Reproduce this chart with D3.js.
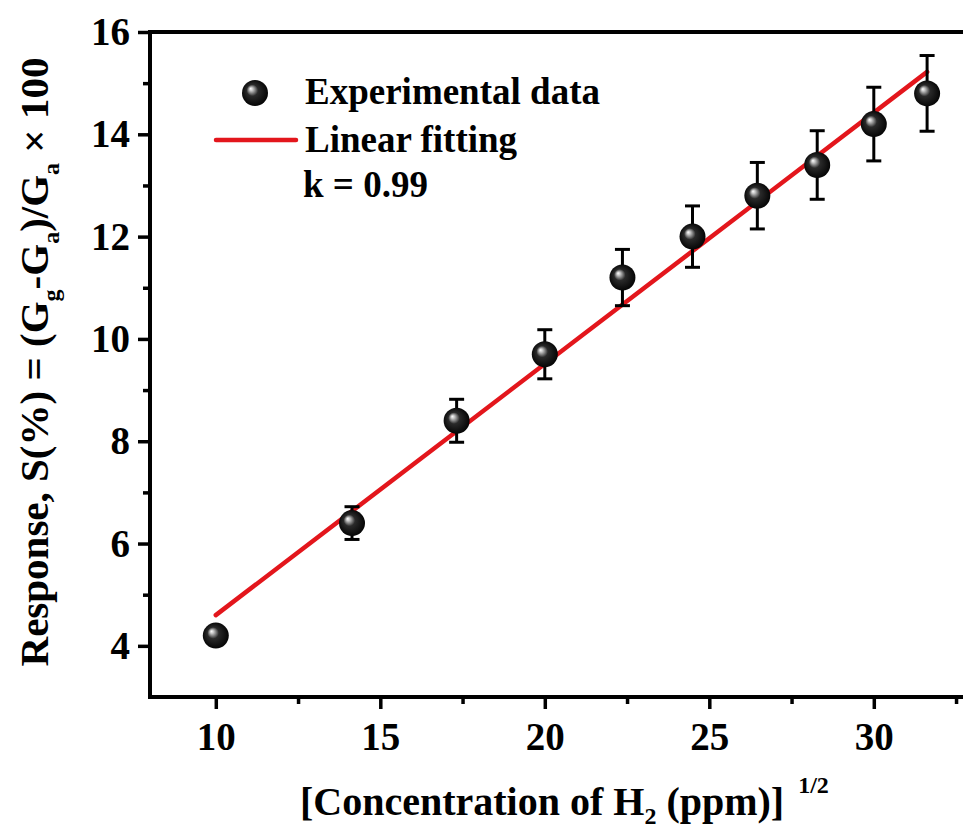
<!DOCTYPE html>
<html>
<head>
<meta charset="utf-8">
<script src="https://cdn.jsdelivr.net/npm/d3@7"></script>
<style>
    body { margin: 0; background: #fff; }
    svg text { font-family: "Liberation Serif", "Times New Roman", serif !important; font-weight: bold; }
</style>
</head>
<body>
<div id="chart"></div>
<script>
// sqrt of H2 concentration (ppm) and response values
const concSqrt = [10, 14.14, 17.32, 20, 22.36, 24.49, 26.46, 28.28, 30, 31.62];
const response = [4.2, 6.4, 8.4, 9.7, 11.2, 12.0, 12.8, 13.4, 14.2, 14.8];
const errors = [0.05, 0.32, 0.42, 0.48, 0.55, 0.6, 0.65, 0.67, 0.72, 0.74];

// linear fit end points
const fitX = [10, 31.62];
const fitY = [4.6, 15.22];

const xTicks = [10, 15, 20, 25, 30];
const xMinor = [12.5, 17.5, 22.5, 27.5, 32.5];
const yTicks = [4, 6, 8, 10, 12, 14, 16];
const yMinor = [5, 7, 9, 11, 13, 15];

const W = 963, H = 828;
const margin = { top: 32, left: 150, bottom: 131 };
const serif = "'Liberation Serif', 'Times New Roman', serif";

const svg = d3.select("#chart").append("svg")
    .attr("width", W)
    .attr("height", H)
    .style("display", "block");

const x = d3.scaleLinear().domain([8, 33]).range([margin.left, 972.5]);
const y = d3.scaleLinear().domain([3, 16]).range([H - margin.bottom, margin.top]);

// sphere look for the markers
const grad = svg.append("defs").append("radialGradient")
    .attr("id", "ball")
    .attr("cx", "0.5").attr("cy", "0.5").attr("r", "0.55")
    .attr("fx", "0.33").attr("fy", "0.33");
grad.append("stop").attr("offset", "0").attr("stop-color", "#ffffff");
grad.append("stop").attr("offset", "0.12").attr("stop-color", "#c8c8c8");
grad.append("stop").attr("offset", "0.4").attr("stop-color", "#2a2a2a");
grad.append("stop").attr("offset", "1").attr("stop-color", "#000000");

// axes
svg.append("g")
    .attr("transform", `translate(0,${y(3)})`)
    .call(d3.axisBottom(x).tickValues(xTicks).tickSize(12).tickPadding(13).tickFormat(d3.format("d")));
svg.append("g")
    .attr("transform", `translate(0,${y(3)})`)
    .call(d3.axisBottom(x).tickValues(xMinor).tickSize(7).tickFormat(""));

svg.append("g")
    .attr("transform", `translate(${x(8)},0)`)
    .call(d3.axisLeft(y).tickValues(yTicks).tickSize(12).tickPadding(8).tickFormat(d3.format("d")));
svg.append("g")
    .attr("transform", `translate(${x(8)},0)`)
    .call(d3.axisLeft(y).tickValues(yMinor).tickSize(7).tickFormat(""));

svg.selectAll("g").attr("font-family", serif).attr("font-weight", "bold");
svg.selectAll(".domain").remove();
svg.selectAll(".tick line").attr("stroke", "#000").attr("stroke-width", 3.5);
svg.selectAll(".tick text")
    .attr("fill", "#000")
    .attr("font-size", 39);

// frame: left, bottom, top
svg.append("path")
    .attr("d", `M${W},${y(16)} H${x(8)} V${y(3)} H${W}`)
    .attr("fill", "none")
    .attr("stroke", "#000")
    .attr("stroke-width", 4);

// fit line
svg.append("line")
    .attr("x1", x(fitX[0])).attr("y1", y(fitY[0]))
    .attr("x2", x(fitX[1])).attr("y2", y(fitY[1]))
    .attr("stroke", "#e3161c")
    .attr("stroke-width", 4.5)
    .attr("stroke-linecap", "round");

const pts = concSqrt.map((c, i) => ({ x: c, y: response[i], e: errors[i] }));

// error bars
const eb = svg.append("g").attr("stroke", "#000").attr("stroke-width", 3);
pts.forEach(d => {
    eb.append("line").attr("x1", x(d.x)).attr("x2", x(d.x))
        .attr("y1", y(d.y - d.e)).attr("y2", y(d.y + d.e));
    [d.y - d.e, d.y + d.e].forEach(v => {
        eb.append("line").attr("x1", x(d.x) - 7.5).attr("x2", x(d.x) + 7.5)
            .attr("y1", y(v)).attr("y2", y(v));
    });
});

svg.append("g").selectAll("circle")
    .data(pts)
    .enter()
    .append("circle")
    .attr("cx", d => x(d.x))
    .attr("cy", d => y(d.y))
    .attr("r", 13)
    .attr("fill", "url(#ball)");

// legend
svg.append("circle").attr("cx", 255).attr("cy", 93).attr("r", 13).attr("fill", "url(#ball)");
svg.append("text").attr("x", 305).attr("y", 104).attr("font-size", 37).text("Experimental data");
svg.append("line").attr("x1", 216).attr("x2", 296).attr("y1", 140).attr("y2", 140)
    .attr("stroke", "#e3161c").attr("stroke-width", 4.5).attr("stroke-linecap", "round");
svg.append("text").attr("x", 305).attr("y", 152).attr("font-size", 37).text("Linear fitting");
svg.append("text").attr("x", 303).attr("y", 197).attr("font-size", 37).text("k = 0.99");

// x axis title
const xt = svg.append("text")
    .attr("x", 300).attr("y", 815)
    .attr("font-size", 40);
xt.append("tspan").text("[Concentration of H");
xt.append("tspan").attr("dy", 9).attr("font-size", 24).text("2");
xt.append("tspan").attr("dy", -9).text(" (ppm)]");
xt.append("tspan").attr("dy", -22).attr("dx", 14).attr("font-size", 24).text("1/2");

// y axis title
const yt = svg.append("text")
    .attr("transform", "translate(48,362) rotate(-90)")
    .attr("text-anchor", "middle")
    .attr("font-size", 41);
yt.append("tspan").text("Response, S(%) = (G");
yt.append("tspan").attr("dy", 11).attr("font-size", 24).text("g");
yt.append("tspan").attr("dy", -11).text("-G");
yt.append("tspan").attr("dy", 11).attr("font-size", 24).text("a");
yt.append("tspan").attr("dy", -11).text(")/G");
yt.append("tspan").attr("dy", 11).attr("font-size", 24).text("a");
yt.append("tspan").attr("dy", -11).text(" \u00d7 100");
</script>
</body>
</html>
